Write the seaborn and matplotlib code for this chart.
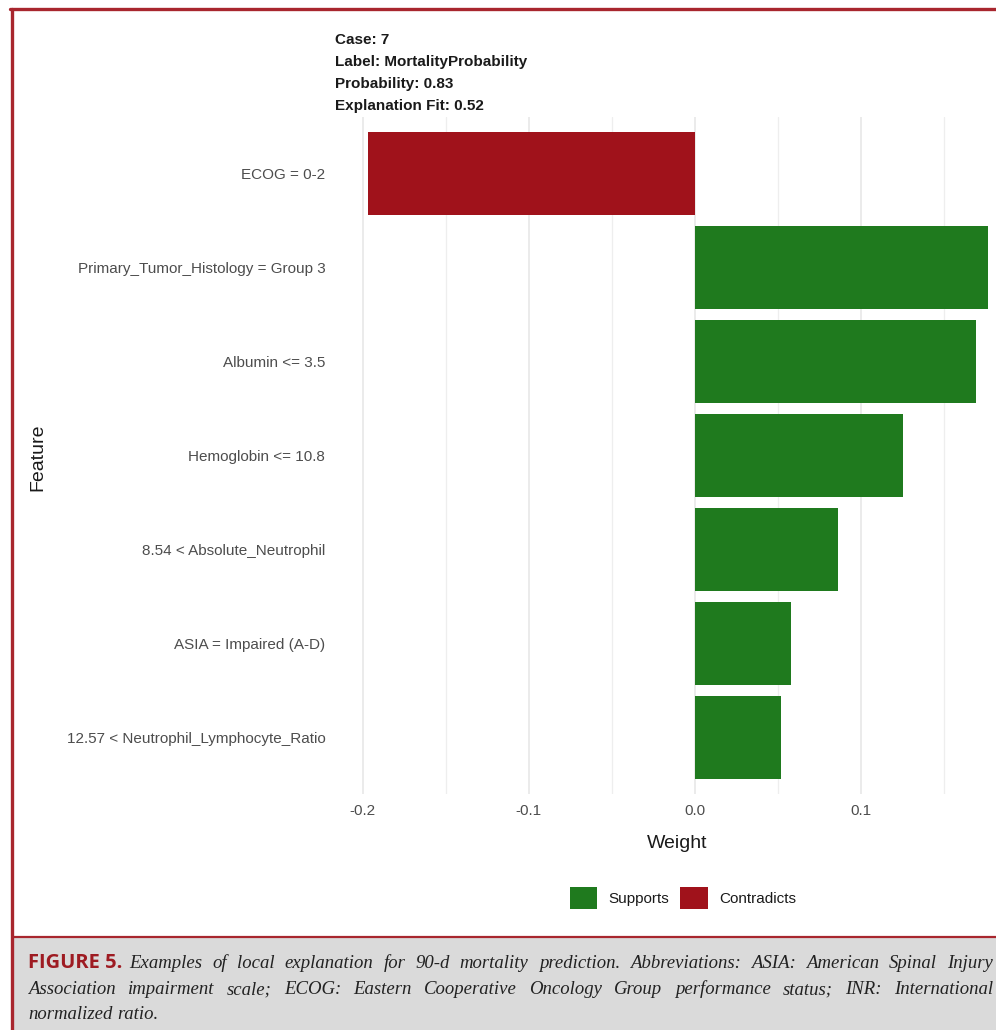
import matplotlib
matplotlib.use("Agg")
import matplotlib.pyplot as plt
from matplotlib.patches import Rectangle
from matplotlib.lines import Line2D
import seaborn as sns
import pandas as pd
import numpy as np

# ---- data ---------------------------------------------------------------
features = [
    "ECOG = 0-2",
    "Primary_Tumor_Histology = Group 3",
    "Albumin <= 3.5",
    "Hemoglobin <= 10.8",
    "8.54 < Absolute_Neutrophil",
    "ASIA = Impaired (A-D)",
    "12.57 < Neutrophil_Lymphocyte_Ratio",
]
weights = [-0.197, 0.176, 0.169, 0.125, 0.086, 0.058, 0.052]
x_ticks = [-0.2, -0.1, 0.0, 0.1]
x_tick_labels = ["-0.2", "-0.1", "0.0", "0.1"]
minor_ticks = [-0.15, -0.05, 0.05, 0.15]
header_lines = [
    "Case: 7",
    "Label: MortalityProbability",
    "Probability: 0.83",
    "Explanation Fit: 0.52",
]
legend_labels = ["Supports", "Contradicts"]
caption_lead = "FIGURE 5."
caption_body = ("Examples of local explanation for 90-d mortality prediction. "
                "Abbreviations: ASIA: American Spinal Injury Association impairment "
                "scale; ECOG: Eastern Cooperative Oncology Group performance status; "
                "INR: International normalized ratio.")

df = pd.DataFrame({
    "Feature": features,
    "Weight": weights,
    "Type": ["Supports" if w > 0 else "Contradicts" for w in weights],
})

GREEN = "#1F7A1E"
RED = "#A0121B"
FRAME_RED = "#A8262E"
palette = {"Supports": GREEN, "Contradicts": RED}

# ---- figure -------------------------------------------------------------
W, H = 996, 1030
sns.set_theme(style="white")
plt.rcParams["font.family"] = ["Liberation Sans", "DejaVu Sans"]
fig = plt.figure(figsize=(W / 100, H / 100), dpi=100)
fig.patch.set_facecolor("white")


def fx(px):
    return px / W


def fy(py):
    return 1 - py / H


# panel (extends a little past the right edge of the canvas)
left, right, top, bottom = 335, 1019, 117, 794
ax = fig.add_axes([fx(left), fy(bottom), (right - left) / W, (bottom - top) / H])
ax.set_facecolor("white")

sns.barplot(data=df, y="Feature", x="Weight", hue="Type", palette=palette,
            order=features, hue_order=legend_labels, dodge=False,
            width=0.89, orient="h", ax=ax, legend=False, saturation=1,
            edgecolor="none")

x_lo = (left - 695) / 1662
x_hi = (right - 695) / 1662
ax.set_xlim(x_lo, x_hi)
ax.set_ylim(len(features) - 0.4, -0.6)

ax.set_xticks(x_ticks)
ax.set_xticklabels(x_tick_labels)
ax.set_xticks(minor_ticks, minor=True)
ax.grid(False)
ax.set_axisbelow(True)
ax.grid(axis="x", which="major", color="#E6E6E6", linewidth=1.1)
ax.grid(axis="x", which="minor", color="#EEEEEE", linewidth=0.9)
for s in ax.spines.values():
    s.set_visible(False)
ax.tick_params(axis="both", which="both", length=0)
ax.tick_params(axis="x", pad=7, labelsize=11, labelcolor="#4D4D4D")
ax.tick_params(axis="y", pad=7, labelsize=11, labelcolor="#4D4D4D")
ax.set_xlabel("")
ax.set_ylabel("")

# axis titles
fig.text(fx(677), fy(844), "Weight", ha="center", va="center",
         fontsize=14, color="#1A1A1A")
fig.text(fx(38), fy(457), "Feature", ha="center", va="center",
         rotation=90, fontsize=14, color="#1A1A1A")

# header block
for i, line in enumerate(header_lines):
    fig.text(fx(335), fy(40 + 22 * i), line, ha="left", va="center",
             fontsize=11, fontweight="bold", color="#1A1A1A")

# legend
handles = [Rectangle((0, 0), 1, 1, facecolor=palette[k], edgecolor="none")
           for k in legend_labels]
fig.legend(handles, legend_labels, loc="center", ncol=2,
           bbox_to_anchor=(fx(683), fy(898)), frameon=False, fontsize=11,
           handlelength=1.8, handleheight=1.85, handletextpad=0.75,
           columnspacing=0.7, labelcolor="#1A1A1A")

# frame and caption panel
fig.add_artist(Rectangle((fx(13), 0), 1, fy(937), transform=fig.transFigure,
                         facecolor="#DADADA", edgecolor="none", zorder=0))
fig.add_artist(Line2D([fx(13), 1], [fy(936.5), fy(936.5)],
                      transform=fig.transFigure, color=FRAME_RED, linewidth=1.6))
fig.add_artist(Line2D([fx(11.5), fx(11.5)], [0, fy(8.5)],
                      transform=fig.transFigure, color=FRAME_RED, linewidth=2.4))
fig.add_artist(Line2D([fx(10.3), 1], [fy(8.5), fy(8.5)],
                      transform=fig.transFigure, color=FRAME_RED, linewidth=2.4))

# caption: bold lead followed by justified italic text
renderer = fig.canvas.get_renderer()
baselines = [968, 994, 1019]
lead = fig.text(fx(28), fy(baselines[0]), caption_lead, ha="left", va="baseline",
                fontsize=14.5, fontweight="bold", color="#9E1B22",
                family=["Open Sans", "DejaVu Sans"])
lead_w = lead.get_window_extent(renderer).width

cap_font = dict(fontsize=13.5, style="italic", color="#222222",
                family=["Liberation Serif", "DejaVu Serif"])


def word_width(w):
    t = fig.text(0, 0, w, **cap_font)
    wd = t.get_window_extent(renderer).width
    t.remove()
    return wd


space_w = word_width("a b") - word_width("ab")
words = caption_body.split()
line_starts = [28 + lead_w + space_w * 1.4, 28, 28]
line_right = 993

lines, cur, cur_w, li = [], [], 0.0, 0
for w in words:
    ww = word_width(w)
    avail = line_right - line_starts[min(li, 2)]
    add = ww if not cur else space_w + ww
    if cur and cur_w + add > avail:
        lines.append(cur)
        li += 1
        cur, cur_w = [(w, ww)], ww
    else:
        cur.append((w, ww))
        cur_w += add
lines.append(cur)

for i, ln in enumerate(lines):
    x0 = line_starts[min(i, 2)]
    total = sum(ww for _, ww in ln)
    last = i == len(lines) - 1
    gap = space_w if (last or len(ln) < 2) else (line_right - x0 - total) / (len(ln) - 1)
    x = x0
    for w, ww in ln:
        fig.text(fx(x), fy(baselines[min(i, 2)]), w, ha="left", va="baseline", **cap_font)
        x += ww + gap

fig.savefig("out.png", dpi=100, facecolor="white")
